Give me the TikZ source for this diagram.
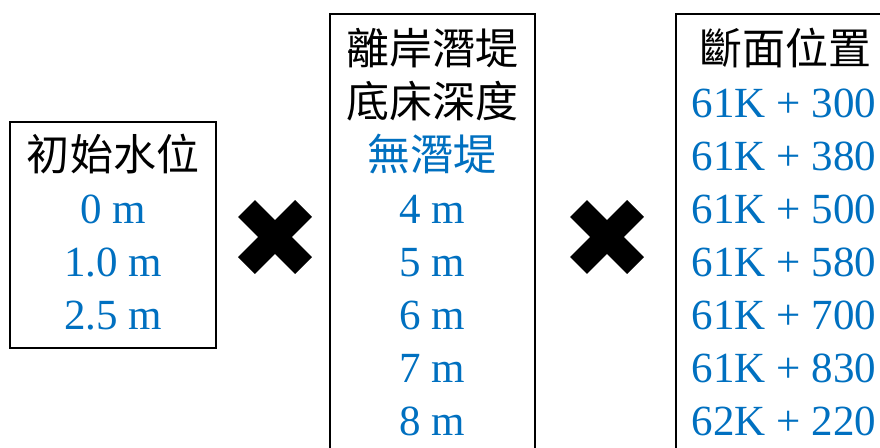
\documentclass[tikz,border=0pt]{standalone}
\usepackage{fontspec}
\usetikzlibrary{calc}
\setmainfont{Liberation Serif}
\newfontfamily\cjk{Noto Sans CJK TC}
\definecolor{valblue}{RGB}{0,112,192}
\begin{document}
\begin{tikzpicture}[x=1pt,y=-1pt,
  boxline/.style={draw=black,line width=1.5pt},
  txt/.style={anchor=base,inner sep=0pt,font=\fontsize{43}{50}\selectfont},
  head/.style={txt,text=black,font=\fontsize{43}{50}\selectfont\cjk},
  val/.style={txt,text=valblue},
  cjkval/.style={txt,text=valblue,font=\fontsize{43}{50}\selectfont\cjk},
  crossbar/.style={line width=24pt,black}]
\useasboundingbox (0,0) rectangle (880,447);
\clip (0,0) rectangle (880,447);
\fill[white] (0,0) rectangle (880,447);
% boxes
\draw[boxline] (10,122) rectangle (216,348);
\draw[boxline] (330,14) rectangle (535,460);
\draw[boxline] (676,14) rectangle (900,460);
% left box
\node[head] (l0) at (113,170) {初始水位};
\node[val] (l1) at (113,223) {0 m};
\node[val] (l2) at (113,276) {1.0 m};
\node[val] (l3) at (113,329) {2.5 m};
% middle box
\node[head] (m0) at (432,64) {離岸潛堤};
\node[head] (m1) at (432,117) {底床深度};
\node[cjkval] (m2) at (432,170) {無潛堤};
\node[val] (m3) at (432,223) {4 m};
\node[val] (m4) at (432,276) {5 m};
\node[val] (m5) at (432,329) {6 m};
\node[val] (m6) at (432,382) {7 m};
\node[val] (m7) at (432,435) {8 m};
% right box
\node[head] (r0) at (785,64) {斷面位置};
\node[val] (r1) at (784,117) {61K + 300};
\node[val] (r2) at (784,170) {61K + 380};
\node[val] (r3) at (784,223) {61K + 500};
\node[val] (r4) at (784,276) {61K + 580};
\node[val] (r5) at (784,329) {61K + 700};
\node[val] (r6) at (784,382) {61K + 830};
\node[val] (r7) at (784,435) {62K + 220};
% crosses
\coordinate (c1) at (275,237);
\coordinate (c2) at (607,237);
\foreach \c in {c1,c2}{
  \draw[crossbar] ($(\c)+(-28.5,-28.5)$) -- ($(\c)+(28.5,28.5)$);
  \draw[crossbar] ($(\c)+(-28.5,28.5)$) -- ($(\c)+(28.5,-28.5)$);
}
\end{tikzpicture}
\end{document}
